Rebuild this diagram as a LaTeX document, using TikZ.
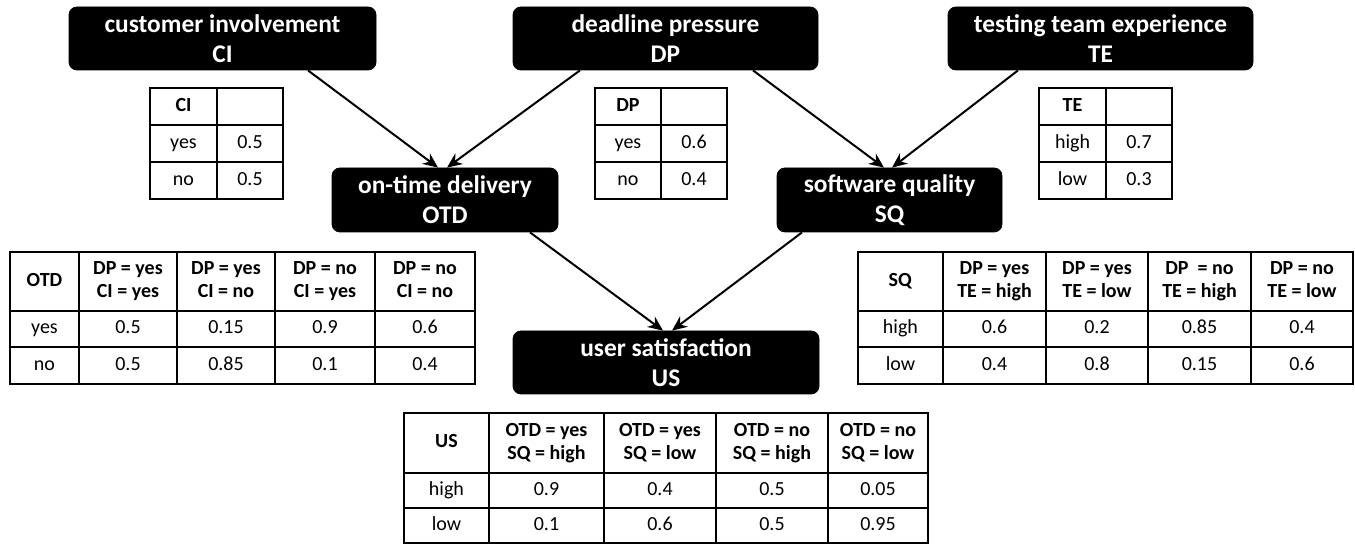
\documentclass[tikz,border=0pt]{standalone}
\usepackage{fontspec}
\setmainfont{Carlito}
\usetikzlibrary{arrows.meta,calc}
\tikzset{
  bnode/.style={fill=black, draw=black, rounded corners=4pt, text=white, align=center,
    font=\fontsize{12.7}{15}\selectfont\bfseries, inner sep=1pt},
  gridline/.style={draw=black, line width=1pt},
  celltext/.style={align=center, font=\fontsize{10}{11.5}\selectfont, inner sep=0pt},
  edge/.style={draw=black, line width=1pt, -{Stealth[length=7.5pt,width=6.5pt]}}
}
\newcommand{\mycell}[6]{%
  \draw[gridline] (#2,#3) rectangle (#4,#5);
  \node[celltext] (#1) at ({(#2+#4)/2},{(#3+#5)/2}) {\strut#6\strut};}
\begin{document}
\begin{tikzpicture}[x=0.5pt,y=-0.5pt]
\useasboundingbox (0,0) rectangle (1355,544);
% nodes
\node[bnode, minimum width=153.5pt, minimum height=31.5pt] (CI) at (222.5,38.5) {customer involvement\\CI};
\node[bnode, minimum width=152.5pt, minimum height=31.5pt] (DP) at (665.5,38.5) {deadline pressure\\DP};
\node[bnode, minimum width=152.5pt, minimum height=31.5pt] (TE) at (1100.5,38.5) {testing team experience\\TE};
\node[bnode, minimum width=113pt, minimum height=32pt] (OTD) at (445,200) {on-time delivery\\OTD};
\node[bnode, minimum width=112.5pt, minimum height=32pt] (SQ) at (889.5,200) {software quality\\SQ};
\node[bnode, minimum width=153pt, minimum height=31.5pt] (US) at (666,362.5) {user satisfaction\\US};
% edges
\draw[edge] ($(CI.south)+(85.5,0)$) -- ($(OTD.north)+(-7,0)$);
\draw[edge] ($(DP.south)+(-85.5,0)$) -- ($(OTD.north)+(2,0)$);
\draw[edge] ($(DP.south)+(87.5,0)$) -- ($(SQ.north)+(-5.5,0)$);
\draw[edge] ($(TE.south)+(-82.5,0)$) -- ($(SQ.north)+(2.5,0)$);
\draw[edge] ($(OTD.south)+(85,0)$) -- ($(US.north)+(-3,0)$);
\draw[edge] ($(SQ.south)+(-87.5,0)$) -- ($(US.north)+(6,0)$);
% CI table
\mycell{ci11}{150}{88}{217}{125}{\textbf{CI}}
\mycell{ci12}{217}{88}{283}{125}{}
\mycell{ci21}{150}{125}{217}{162}{yes}
\mycell{ci22}{217}{125}{283}{162}{0.5}
\mycell{ci31}{150}{162}{217}{199}{no}
\mycell{ci32}{217}{162}{283}{199}{0.5}
% DP table
\mycell{dp11}{595}{88}{661}{125}{\textbf{DP}}
\mycell{dp12}{661}{88}{727}{125}{}
\mycell{dp21}{595}{125}{661}{162}{yes}
\mycell{dp22}{661}{125}{727}{162}{0.6}
\mycell{dp31}{595}{162}{661}{199}{no}
\mycell{dp32}{661}{162}{727}{199}{0.4}
% TE table
\mycell{te11}{1039}{88}{1106}{125}{\textbf{TE}}
\mycell{te12}{1106}{88}{1172}{125}{}
\mycell{te21}{1039}{125}{1106}{162}{high}
\mycell{te22}{1106}{125}{1172}{162}{0.7}
\mycell{te31}{1039}{162}{1106}{199}{low}
\mycell{te32}{1106}{162}{1172}{199}{0.3}
% OTD table
\mycell{otd11}{10}{252}{79}{311}{\textbf{OTD}}
\mycell{otd12}{79}{252}{177}{311}{\textbf{DP = yes}\\\textbf{CI = yes}}
\mycell{otd13}{177}{252}{275}{311}{\textbf{DP = yes}\\\textbf{CI = no}}
\mycell{otd14}{275}{252}{375}{311}{\textbf{DP = no}\\\textbf{CI = yes}}
\mycell{otd15}{375}{252}{475}{311}{\textbf{DP = no}\\\textbf{CI = no}}
\mycell{otd21}{10}{311}{79}{347}{yes}
\mycell{otd22}{79}{311}{177}{347}{0.5}
\mycell{otd23}{177}{311}{275}{347}{0.15}
\mycell{otd24}{275}{311}{375}{347}{0.9}
\mycell{otd25}{375}{311}{475}{347}{0.6}
\mycell{otd31}{10}{347}{79}{384}{no}
\mycell{otd32}{79}{347}{177}{384}{0.5}
\mycell{otd33}{177}{347}{275}{384}{0.85}
\mycell{otd34}{275}{347}{375}{384}{0.1}
\mycell{otd35}{375}{347}{475}{384}{0.4}
% SQ table
\mycell{sq11}{858}{252}{943}{311}{\textbf{SQ}}
\mycell{sq12}{943}{252}{1046}{311}{\textbf{DP = yes}\\\textbf{TE = high}}
\mycell{sq13}{1046}{252}{1148}{311}{\textbf{DP = yes}\\\textbf{TE = low}}
\mycell{sq14}{1148}{252}{1251}{311}{\textbf{DP~ = no}\\\textbf{TE = high}}
\mycell{sq15}{1251}{252}{1353}{311}{\textbf{DP = no}\\\textbf{TE = low}}
\mycell{sq21}{858}{311}{943}{347}{high}
\mycell{sq22}{943}{311}{1046}{347}{0.6}
\mycell{sq23}{1046}{311}{1148}{347}{0.2}
\mycell{sq24}{1148}{311}{1251}{347}{0.85}
\mycell{sq25}{1251}{311}{1353}{347}{0.4}
\mycell{sq31}{858}{347}{943}{384}{low}
\mycell{sq32}{943}{347}{1046}{384}{0.4}
\mycell{sq33}{1046}{347}{1148}{384}{0.8}
\mycell{sq34}{1148}{347}{1251}{384}{0.15}
\mycell{sq35}{1251}{347}{1353}{384}{0.6}
% US table
\mycell{us11}{404}{413}{489}{473}{\textbf{US}}
\mycell{us12}{489}{413}{604}{473}{\textbf{OTD = yes}\\\textbf{SQ = high}}
\mycell{us13}{604}{413}{716}{473}{\textbf{OTD = yes}\\\textbf{SQ = low}}
\mycell{us14}{716}{413}{828}{473}{\textbf{OTD = no}\\\textbf{SQ = high}}
\mycell{us15}{828}{413}{928}{473}{\textbf{OTD = no}\\\textbf{SQ = low}}
\mycell{us21}{404}{473}{489}{508}{high}
\mycell{us22}{489}{473}{604}{508}{0.9}
\mycell{us23}{604}{473}{716}{508}{0.4}
\mycell{us24}{716}{473}{828}{508}{0.5}
\mycell{us25}{828}{473}{928}{508}{0.05}
\mycell{us31}{404}{508}{489}{543}{low}
\mycell{us32}{489}{508}{604}{543}{0.1}
\mycell{us33}{604}{508}{716}{543}{0.6}
\mycell{us34}{716}{508}{828}{543}{0.5}
\mycell{us35}{828}{508}{928}{543}{0.95}
\end{tikzpicture}
\end{document}
